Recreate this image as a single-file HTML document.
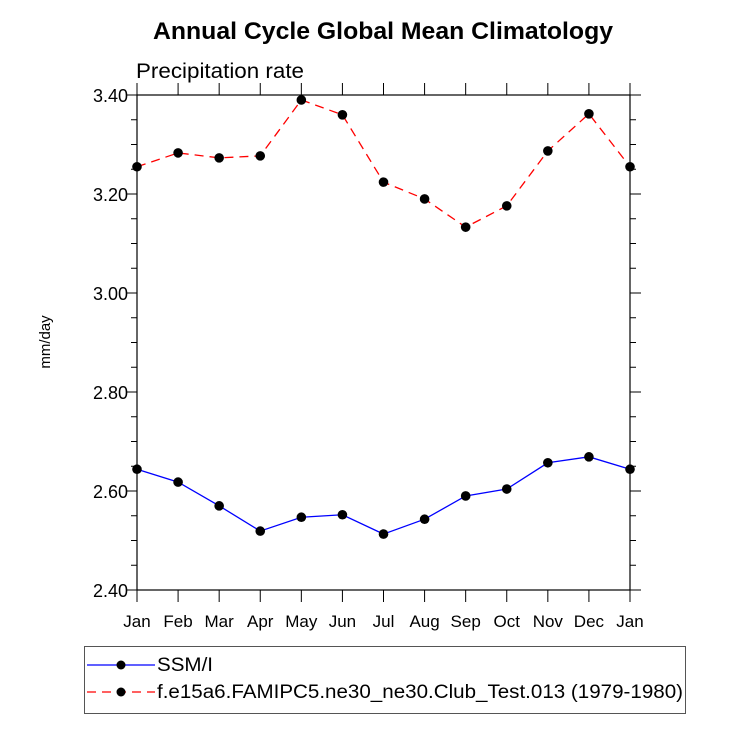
<!DOCTYPE html>
<html><head><meta charset="utf-8"><style>
body{margin:0;background:#fff;width:732px;height:732px;overflow:hidden}
text{font-family:"Liberation Sans",sans-serif}
</style></head><body>
<svg id="chart" width="732" height="732" xmlns="http://www.w3.org/2000/svg">
<text x="153" y="39" font-size="24" font-weight="bold" textLength="460" lengthAdjust="spacingAndGlyphs">Annual Cycle Global Mean Climatology</text>
<text x="136" y="78" font-size="21" textLength="168" lengthAdjust="spacingAndGlyphs">Precipitation rate</text>
<text transform="translate(50,342) rotate(-90)" font-size="15" text-anchor="middle">mm/day</text>
<g id="axes"></g>
<g id="series"></g>
<g>
<rect x="84.5" y="646.5" width="601" height="67" fill="none" stroke="#555" stroke-width="1"/>
<line x1="87" y1="665" x2="155" y2="665" stroke="#0000ff" stroke-width="1.3"/>
<circle cx="121" cy="665" r="4.5" fill="#000"/>
<text x="157" y="671" font-size="19" textLength="56" lengthAdjust="spacingAndGlyphs">SSM/I</text>
<line x1="87" y1="692" x2="155" y2="692" stroke="#ff0000" stroke-width="1.3" stroke-dasharray="9,6"/>
<circle cx="121" cy="692" r="4.5" fill="#000"/>
<text x="157" y="698" font-size="19" textLength="526" lengthAdjust="spacingAndGlyphs">f.e15a6.FAMIPC5.ne30_ne30.Club_Test.013 (1979-1980)</text>
</g>
</svg>
<script>
const months=["Jan","Feb","Mar","Apr","May","Jun","Jul","Aug","Sep","Oct","Nov","Dec","Jan"];
const ssmi=[2.644,2.618,2.570,2.519,2.547,2.552,2.513,2.543,2.590,2.604,2.657,2.669,2.644];
const model=[3.255,3.283,3.273,3.277,3.390,3.360,3.224,3.190,3.133,3.176,3.287,3.362,3.255];
const yTicks=[2.40,2.60,2.80,3.00,3.20,3.40];
const NS="http://www.w3.org/2000/svg";
const L=137,R=630,T=95,B=590,ymin=2.4,ymax=3.4;
const xs=i=>L+(R-L)*i/(months.length-1);
const ys=v=>B-(v-ymin)/(ymax-ymin)*(B-T);
function mk(tag,attrs,parent){const e=document.createElementNS(NS,tag);for(const k in attrs)e.setAttribute(k,attrs[k]);parent.appendChild(e);return e;}
const ax=document.getElementById('axes');
const frame=mk('rect',{x:L,y:T,width:R-L,height:B-T,fill:'none',stroke:'#000','stroke-width':1.2},ax);


for(let v=ymin;v<=ymax+1e-9;v+=0.05){
  const y=ys(v);const major=Math.abs((v-ymin)/0.2-Math.round((v-ymin)/0.2))<1e-6;const len=major?11:6;
  mk('line',{x1:L-len,y1:y,x2:L,y2:y,stroke:'#000','stroke-width':1},ax);
  mk('line',{x1:R,y1:y,x2:R+len,y2:y,stroke:'#000','stroke-width':1},ax);
}
yTicks.forEach(v=>{
  const t=mk('text',{x:L-9,y:ys(v)+7,'font-size':18,'text-anchor':'end'},ax);
  t.textContent=v.toFixed(2);
  
  
});
months.forEach((m,i)=>{
  const x=xs(i);
  mk('line',{x1:x,y1:B,x2:x,y2:B+12,stroke:'#000','stroke-width':1},ax);
  mk('line',{x1:x,y1:T,x2:x,y2:T-12,stroke:'#000','stroke-width':1},ax);
  const t=mk('text',{x:x,y:B+37,'font-size':17,'text-anchor':'middle'},ax);
  t.textContent=m;
  
  
});
const sg=document.getElementById('series');
function draw(vals,color,dash,name){
  const pts=vals.map((v,i)=>xs(i)+','+ys(v)).join(' ');
  const pl=mk('polyline',{points:pts,fill:'none',stroke:color,'stroke-width':1.3,'stroke-dasharray':dash},sg);
  
  
  vals.forEach((v,i)=>{
    const c=mk('circle',{cx:xs(i),cy:ys(v),r:4.8,fill:'#000'},sg);
    
    
  });
}
draw(ssmi,'#0000ff','none','ssmi');
draw(model,'#ff0000','9,6','model');
</script>
</body></html>
